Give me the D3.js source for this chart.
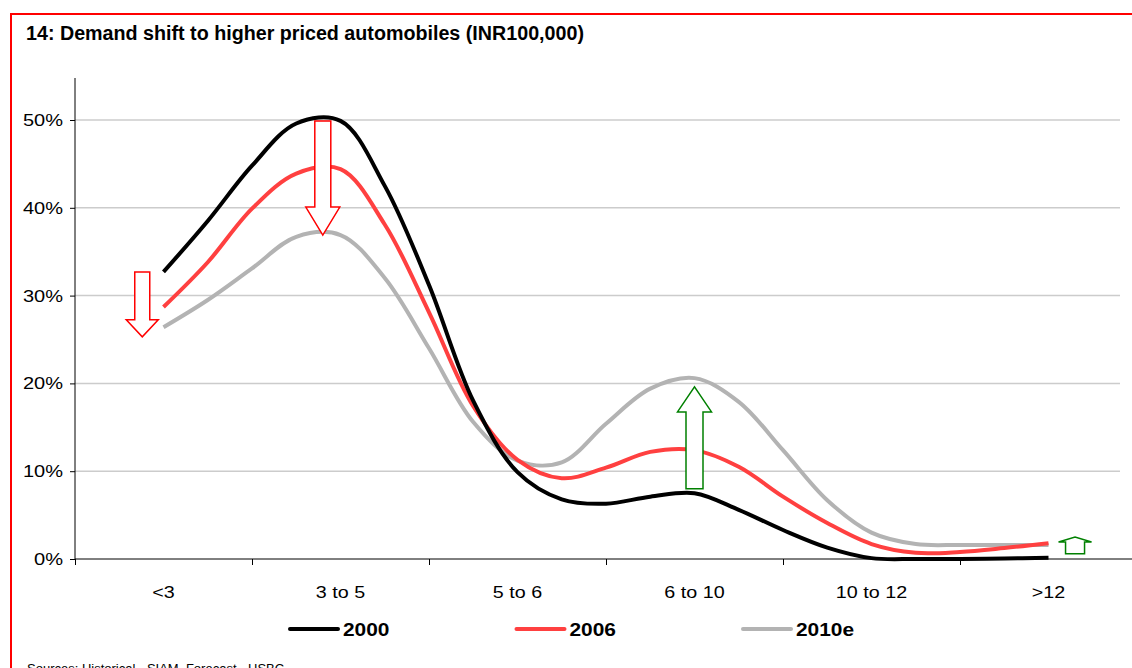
<!DOCTYPE html>
<html>
<head>
<meta charset="utf-8">
<script src="https://d3js.org/d3.v7.min.js"></script>
<style>
  body { margin: 0; background: #fff; }
  svg { display: block; font-family: "Liberation Sans", Arial, sans-serif; }
</style>
</head>
<body>
<div id="chart"></div>
<script>
// categories (price bands, INR100,000)
var categories = ["<3", "3 to 5", "5 to 6", "6 to 10", "10 to 12", ">12"];
var samplePos = [0, 0.25, 0.5, 0.75, 1, 1.25, 1.5, 1.75, 2, 2.25, 2.5, 2.75, 3, 3.25, 3.5, 3.75, 4, 4.25, 4.5, 4.75, 5];
// share of demand, %
var share2000 = [32.7, 38.5, 44.8, 49.6, 49.9, 42.5, 31.2, 18.0, 9.9, 6.8, 6.3, 7.1, 7.5, 5.6, 3.3, 1.3, 0.1, 0, 0, 0.05, 0.15];
var share2006 = [28.7, 33.8, 39.9, 43.9, 44.4, 38.1, 28.1, 17.4, 11.3, 9.2, 10.4, 12.2, 12.4, 10.5, 7.1, 4.1, 1.7, 0.7, 0.8, 1.25, 1.8];
var share2010 = [26.4, 29.5, 33.1, 36.7, 36.9, 32.0, 24.0, 15.6, 11.2, 11.0, 15.4, 19.4, 20.6, 17.9, 12.4, 6.7, 3.0, 1.7, 1.6, 1.6, 1.6];
var yTicks = [0, 10, 20, 30, 40, 50];
var seriesNames = ["2000", "2006", "2010e"];
var seriesColors = ["#000000", "#ff4040", "#b3b3b3"];

// annotation arrows: [position, from %, to %]
var downArrows = [[-0.12, 32.7, 25.3], [0.9, 49.9, 36.9]];
var upArrows = [[3.0, 8.0, 19.6], [5.15, 0.6, 2.5]];

var width = 1132, height = 668;
var svg = d3.select("#chart").append("svg").attr("width", width).attr("height", height);

var x = d3.scaleLinear().domain([-0.5, 5.5]).range([75, 1137]);
var y = d3.scaleLinear().domain([0, 50]).range([559, 120]);

// red frame
svg.append("path")
  .attr("d", "M11," + height + "V14H" + width)
  .attr("fill", "none").attr("stroke", "#ff0000").attr("stroke-width", 2);

svg.append("text")
  .attr("x", 26).attr("y", 40)
  .attr("font-size", 20).attr("font-weight", "bold")
  .attr("textLength", 558).attr("lengthAdjust", "spacingAndGlyphs")
  .text("14: Demand shift to higher priced automobiles (INR100,000)");

// gridlines
svg.append("g").selectAll("line")
  .data(yTicks.slice(1))
  .enter().append("line")
  .attr("x1", x(-0.5)).attr("x2", 1120)
  .attr("y1", function(d) { return y(d); }).attr("y2", function(d) { return y(d); })
  .attr("stroke", "#cccccc").attr("stroke-width", 1.5);

// y axis
var yAxis = svg.append("g")
  .attr("transform", "translate(" + x(-0.5) + ",0)")
  .call(d3.axisLeft(y).tickValues(yTicks).tickSize(5).tickPadding(7)
    .tickFormat(function(d) { return d + "%"; }));
yAxis.select(".domain").attr("d", "M0,78V559");
yAxis.selectAll("text")
  .attr("font-size", 17).attr("fill", "#000")
  .attr("font-family", "Liberation Sans, Arial, sans-serif")
  .attr("textLength", function(d) { return d === 0 ? 29 : 40; })
  .attr("lengthAdjust", "spacingAndGlyphs");

// x axis (ticks between categories)
var xAxis = svg.append("g")
  .attr("transform", "translate(0," + y(0) + ")")
  .call(d3.axisBottom(x).tickValues([-0.5, 0.5, 1.5, 2.5, 3.5, 4.5]).tickSize(6).tickFormat(""));
xAxis.select(".domain").attr("d", "M" + x(-0.5) + ",0H" + width);

svg.append("g").selectAll("text")
  .data(categories)
  .enter().append("text")
  .attr("transform", function(d, i) { return "translate(" + x(i) + ",598) scale(1.16,1)"; })
  .attr("text-anchor", "middle")
  .attr("font-size", 17)
  .text(function(d) { return d; });

// lines
var line = d3.line()
  .x(function(d) { return x(d[0]); })
  .y(function(d) { return y(d[1]); })
  .curve(d3.curveCatmullRom.alpha(0.5));

[share2010, share2006, share2000].forEach(function(vals) {
  var idx = [share2000, share2006, share2010].indexOf(vals);
  svg.append("path")
    .datum(samplePos.map(function(p, i) { return [p, vals[i]]; }))
    .attr("fill", "none")
    .attr("stroke", seriesColors[idx])
    .attr("stroke-width", 4)
    .attr("stroke-linejoin", "round")
    .attr("d", line);
});

// block arrows
function arrow(pos, from, to, color, shaftW, headW, headL) {
  var cx = x(pos), y0 = y(from), y1 = y(to);
  var dir = y1 > y0 ? 1 : -1;
  var yb = y1 - dir * headL;
  var pts = [[cx - shaftW / 2, y0], [cx + shaftW / 2, y0], [cx + shaftW / 2, yb], [cx + headW / 2, yb],
             [cx, y1], [cx - headW / 2, yb], [cx - shaftW / 2, yb]];
  svg.append("path")
    .attr("d", "M" + pts.join("L") + "Z")
    .attr("fill", "#fff").attr("stroke", color).attr("stroke-width", 1.5);
}
downArrows.forEach(function(a, i) {
  arrow(a[0], a[1], a[2], "#ff0000", i === 0 ? 15 : 16, i === 0 ? 32 : 34, i === 0 ? 17 : 28);
});
upArrows.forEach(function(a, i) {
  arrow(a[0], a[1], a[2], "#008000", i === 0 ? 17 : 19, i === 0 ? 34 : 33, i === 0 ? 25 : 5);
});

// legend
var legend = svg.append("g").selectAll("g")
  .data(seriesNames)
  .enter().append("g")
  .attr("transform", function(d, i) { return "translate(" + (290 + i * 226.5) + ",629)"; });
legend.append("line")
  .attr("x1", 0).attr("x2", 48)
  .attr("stroke", function(d, i) { return seriesColors[i]; })
  .attr("stroke-width", 4).attr("stroke-linecap", "round");
legend.append("text")
  .attr("transform", "translate(53,7) scale(1.1,1)")
  .attr("font-size", 19).attr("font-weight", "bold")
  .text(function(d) { return d; });

svg.append("text")
  .attr("x", 27).attr("y", 673)
  .attr("font-size", 13)
  .text("Sources: Historical - SIAM, Forecast - HSBC");
</script>
</body>
</html>
